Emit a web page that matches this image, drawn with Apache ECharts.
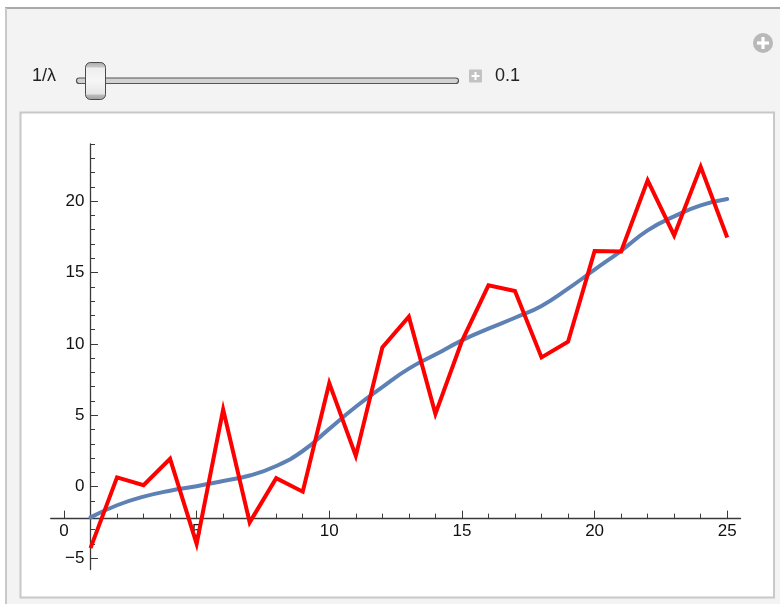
<!DOCTYPE html>
<html>
<head>
<meta charset="utf-8">
<script src="https://cdn.jsdelivr.net/npm/echarts@6/dist/echarts.min.js"></script>
<style>
  html, body { margin: 0; padding: 0; background: #ffffff; }
  #chart { width: 780px; height: 604px; }
</style>
</head>
<body>
<div id="chart"></div>
<script>
// Sample positions and measured values
const xs = [1, 2, 3, 4, 5, 6, 7, 8, 9, 10, 11, 12, 13, 14, 15, 16, 17, 18, 19, 20, 21, 22, 23, 24, 25];
const observed = [-4.3, 0.65, 0.1, 1.95, -4.0, 5.4, -2.5, 0.6, -0.35, 7.25, 2.15, 9.75, 11.9, 5.1, 10.2,
                  14.1, 13.7, 9.05, 10.15, 16.5, 16.47, 21.45, 17.6, 22.4, 17.45];
// Smoothed fit (regularisation 1/lambda = 0.1)
const smoothed = [-2.15, -1.3, -0.7, -0.28, 0.03, 0.4, 0.78, 1.45, 2.5, 4.05, 5.6, 6.98, 8.27, 9.25, 10.25,
                  11.07, 11.83, 12.66, 13.87, 15.2, 16.52, 17.95, 18.93, 19.7, 20.15];

// Axis ranges, crossing point and ticks
const xRange = [-0.5, 25.5];
const yRange = [-5.8, 24];
const axesOrigin = [1, -2.2];
const xMajorTicks = [0, 5, 10, 15, 20, 25];
const xMinorTicks = [0, 1, 2, 3, 4, 5, 6, 7, 8, 9, 10, 11, 12, 13, 14, 15, 16, 17, 18, 19, 20, 21, 22, 23, 24, 25];
const yMajorTicks = [-5, 0, 5, 10, 15, 20];
const yMinorTicks = [-5, -4, -3, -2, -1, 0, 1, 2, 3, 4, 5, 6, 7, 8, 9, 10, 11, 12, 13, 14, 15, 16, 17, 18, 19, 20, 21, 22, 23, 24];

// Control panel text
const sliderLabel = '1/\u03bb';
const sliderValue = '0.1';

const AXIS_COLOR = '#3a3a3a';
const LABEL_FONT = { fontFamily: 'Liberation Sans, Arial, sans-serif', fontSize: 17, color: '#111111' };
const UI_FONT = '18px "Liberation Sans", Arial, sans-serif';

const fmtTick = v => (v < 0 ? '\u2212' + Math.abs(v) : String(v));

function xAxisDef(ticks, len, withLine, withLabels) {
  return {
    type: 'value', min: xRange[0], max: xRange[1], position: 'bottom', gridIndex: 0,
    axisLine: { show: withLine, onZero: false, lineStyle: { color: AXIS_COLOR, width: 1.3 } },
    axisTick: { show: true, inside: true, length: len, customValues: ticks, lineStyle: { color: AXIS_COLOR, width: 1 } },
    axisLabel: Object.assign({ show: withLabels, customValues: ticks, formatter: fmtTick, margin: 13.5,
      verticalAlign: 'middle' }, LABEL_FONT),
    splitLine: { show: false }, minorTick: { show: false }
  };
}
function yAxisDef(ticks, len, withLine, withLabels) {
  return {
    type: 'value', min: yRange[0], max: yRange[1], position: 'left', gridIndex: 0,
    axisLine: { show: withLine, onZero: false, lineStyle: { color: AXIS_COLOR, width: 1.3 } },
    axisTick: { show: true, inside: true, length: len, customValues: ticks, lineStyle: { color: AXIS_COLOR, width: 1 } },
    axisLabel: Object.assign({ show: withLabels, customValues: ticks, formatter: fmtTick, margin: 6,
      align: 'right', verticalAlign: 'middle' }, LABEL_FONT),
    splitLine: { show: false }, minorTick: { show: false }
  };
}

// Manipulate-style panel: frame, slider and inner plot box
const panelGraphics = [
  { type: 'rect', z: -20, silent: true, shape: { x: 6, y: 8, width: 800, height: 620 },
    style: { fill: '#f3f3f3', stroke: null } },
  { type: 'line', z: -19, silent: true, shape: { x1: 5, y1: 8, x2: 790, y2: 8 },
    style: { stroke: '#a9a9a9', lineWidth: 2 } },
  { type: 'line', z: -19, silent: true, shape: { x1: 6, y1: 8, x2: 6, y2: 610 },
    style: { stroke: '#c9c9c9', lineWidth: 2 } },
  { type: 'rect', z: -18, silent: true, shape: { x: 20.5, y: 112.5, width: 753.5, height: 485 },
    style: { fill: '#ffffff', stroke: '#c8c8c8', lineWidth: 2 } },
  // slider label and value
  { type: 'text', z: -10, silent: true, style: { x: 32, y: 76, text: sliderLabel, fill: '#222',
    font: UI_FONT, verticalAlign: 'middle', align: 'left' } },
  { type: 'rect', z: -10, silent: true, shape: { x: 76.5, y: 78, width: 382, height: 5.5, r: 2.75 },
    style: { fill: '#d2d2d2', stroke: '#555555', lineWidth: 1.2 } },
  { type: 'rect', z: -9, silent: true, shape: { x: 85.5, y: 62.5, width: 20, height: 37, r: 5 },
    style: {
      fill: new echarts.graphic.LinearGradient(0, 0, 0, 1, [
        { offset: 0, color: '#a8a8a8' }, { offset: 0.13, color: '#c8c8c8' }, { offset: 0.16, color: '#eeeeee' },
        { offset: 0.5, color: '#f6f6f6' }, { offset: 0.84, color: '#e6e6e6' }, { offset: 0.87, color: '#bcbcbc' },
        { offset: 1, color: '#9c9c9c' }
      ]),
      stroke: '#4a4a4a', lineWidth: 1
    } },
  // small increment button
  { type: 'rect', z: -10, silent: true, shape: { x: 469, y: 69.5, width: 13, height: 13, r: 1 },
    style: { fill: '#c2c2c2' } },
  { type: 'line', z: -9, silent: true, shape: { x1: 475.5, y1: 72, x2: 475.5, y2: 80 },
    style: { stroke: '#ffffff', lineWidth: 2 } },
  { type: 'line', z: -9, silent: true, shape: { x1: 471.5, y1: 76, x2: 479.5, y2: 76 },
    style: { stroke: '#ffffff', lineWidth: 2 } },
  { type: 'text', z: -10, silent: true, style: { x: 495, y: 76, text: sliderValue, fill: '#222',
    font: UI_FONT, verticalAlign: 'middle', align: 'left' } },
  // expand button
  { type: 'circle', z: -10, silent: true, shape: { cx: 763, cy: 43, r: 10 }, style: { fill: '#b8b8b8' } },
  { type: 'line', z: -9, silent: true, shape: { x1: 763, y1: 37, x2: 763, y2: 49 },
    style: { stroke: '#ffffff', lineWidth: 3.2 } },
  { type: 'line', z: -9, silent: true, shape: { x1: 757, y1: 43, x2: 769, y2: 43 },
    style: { stroke: '#ffffff', lineWidth: 3.2 } }
];

const chart = echarts.init(document.getElementById('chart'), null, { renderer: 'canvas' });

const option = {
  animation: false,
  backgroundColor: 'transparent',
  graphic: panelGraphics,
  grid: { left: 50.7, right: 39.5, top: 144, bottom: 34.5, containLabel: false },
  xAxis: [xAxisDef(xMajorTicks, 7.5, true, true), xAxisDef(xMinorTicks, 4.5, false, false)],
  yAxis: [yAxisDef(yMajorTicks, 7.5, true, true), yAxisDef(yMinorTicks, 4.5, false, false)],
  series: [
    {
      name: 'smoothed', type: 'line', xAxisIndex: 0, yAxisIndex: 0, z: 3,
      data: xs.map((x, i) => [x, smoothed[i]]),
      smooth: 0.5, showSymbol: false, symbol: 'none',
      lineStyle: { color: '#5e81b5', width: 4, cap: 'round' }
    },
    {
      name: 'observed', type: 'line', xAxisIndex: 0, yAxisIndex: 0, z: 4,
      data: xs.map((x, i) => [x, observed[i]]),
      showSymbol: false, symbol: 'none',
      lineStyle: { color: '#ff0000', width: 4, join: 'miter', miterLimit: 10, cap: 'butt' }
    }
  ]
};
chart.setOption(option);

// Move both axes so they cross at the plot's origin point
const pOrigin = chart.convertToPixel({ xAxisIndex: 0, yAxisIndex: 0 }, axesOrigin);
const pCorner = chart.convertToPixel({ xAxisIndex: 0, yAxisIndex: 0 }, [xRange[0], yRange[0]]);
const xOff = pOrigin[1] - pCorner[1];
const yOff = pCorner[0] - pOrigin[0];
chart.setOption({
  xAxis: [{ offset: xOff }, { offset: xOff }],
  yAxis: [{ offset: yOff }, { offset: yOff }]
});
</script>
</body>
</html>
